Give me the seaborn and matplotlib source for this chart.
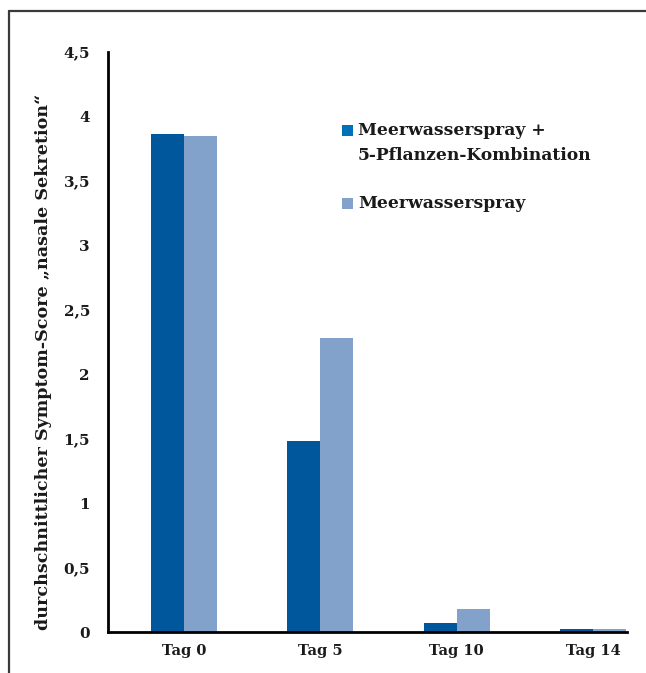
import matplotlib
matplotlib.use("Agg")
import matplotlib.pyplot as plt
from matplotlib.lines import Line2D
from matplotlib.patches import Rectangle
import seaborn as sns
import pandas as pd

# Data
tage = ["Tag 0", "Tag 5", "Tag 10", "Tag 14"]
kombination = [3.86, 1.48, 0.07, 0.025]
meerwasser = [3.85, 2.28, 0.18, 0.025]
gruppen = ["Meerwasserspray +\n5-Pflanzen-Kombination", "Meerwasserspray"]
y_ticks = [0, 0.5, 1, 1.5, 2, 2.5, 3, 3.5, 4, 4.5]
y_ticklabels = ["0", "0,5", "1", "1,5", "2", "2,5", "3", "3,5", "4", "4,5"]
y_label = "durchschnittlicher Symptom-Score \u201enasale Sekretion\u201c"

dark = "#00579b"
light = "#82a1cb"
legend_dark = "#0070ba"
ink = "#1a1a1a"

df = pd.DataFrame({
    "Tag": tage * 2,
    "Score": kombination + meerwasser,
    "Gruppe": [gruppen[0]] * len(tage) + [gruppen[1]] * len(tage),
})

sns.set_theme(style="white")
plt.rcParams["font.family"] = ["DejaVu Serif"]
plt.rcParams["font.weight"] = "bold"

W, H = 646, 673
fig = plt.figure(figsize=(W / 100, H / 100), dpi=100)
ax = fig.add_axes([108 / W, 1 - 632 / H, (627 - 108) / W, (632 - 52) / H])

sns.barplot(data=df, x="Tag", y="Score", hue="Gruppe", order=tage,
            hue_order=gruppen, palette=[dark, light], saturation=1,
            width=0.484, linewidth=0, legend=False, ax=ax)

ax.set_xlim(-0.557, 3.25)
ax.set_ylim(0, 4.5)
ax.set_yticks(y_ticks)
ax.set_yticklabels(y_ticklabels, fontsize=11, fontweight="bold", color=ink)
ax.set_xticks(range(len(tage)))
ax.set_xticklabels(tage, fontsize=10.5, fontweight="bold", color=ink)
ax.tick_params(axis="y", length=0, pad=13)
ax.tick_params(axis="x", length=0, pad=9)
ax.set_xlabel("")
ax.set_ylabel(y_label, fontsize=12.6, fontweight="bold", color=ink)
ax.yaxis.set_label_coords(-0.108, 0.466)

for side in ["top", "right"]:
    ax.spines[side].set_visible(False)
for side in ["left", "bottom"]:
    ax.spines[side].set_color("black")
    ax.spines[side].set_linewidth(2)

# Legend drawn as squares with text, in axes coordinates
def ax_xy(px, py):
    return (px - 108) / (627 - 108), (632 - py) / (632 - 52)

sq_w = 11 / (627 - 108)
sq_h = 11 / (632 - 52)
for (py_sq, py_txt, color, label, va) in [
    (125, 122, legend_dark, gruppen[0], "top"),
    (198, 203, light, gruppen[1], "center"),
]:
    x0, y0 = ax_xy(342, py_sq + 11)
    ax.add_patch(Rectangle((x0, y0), sq_w, sq_h, transform=ax.transAxes,
                           facecolor=color, edgecolor="none", clip_on=False))
    tx, ty = ax_xy(358, py_txt)
    ax.text(tx, ty, label, transform=ax.transAxes, fontsize=12.3,
            fontweight="bold", color=ink, ha="left", va=va,
            linespacing=1.62)

# Outer frame: top and left rules
fig.add_artist(Line2D([9 / W, 1], [1 - 11 / H, 1 - 11 / H],
                      transform=fig.transFigure, color="#3a3a3a", lw=1.6))
fig.add_artist(Line2D([9 / W, 9 / W], [0, 1 - 11 / H],
                      transform=fig.transFigure, color="#3a3a3a", lw=1.6))

fig.savefig("out.png", dpi=100)
